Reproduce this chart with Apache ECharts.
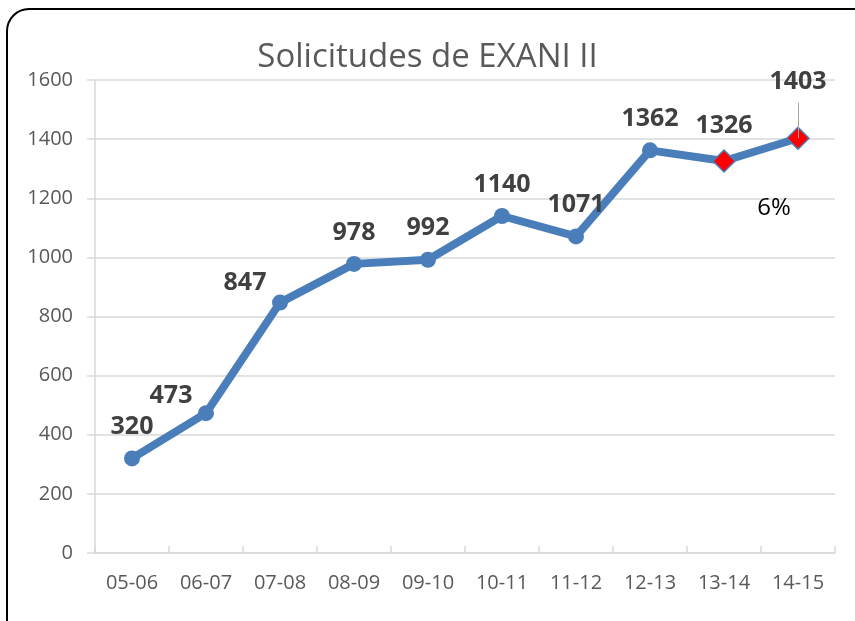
<!DOCTYPE html>
<html>
<head>
<meta charset="utf-8">
<script src="https://cdn.jsdelivr.net/npm/echarts@6/dist/echarts.min.js"></script>
<style>
  html, body { margin: 0; padding: 0; background: #fff; }
  #chart { width: 855px; height: 621px; }
</style>
</head>
<body>
<div id="chart"></div>
<script>
var periods = ['05-06', '06-07', '07-08', '08-09', '09-10', '10-11', '11-12', '12-13', '13-14', '14-15'];
var solicitudes = [320, 473, 847, 978, 992, 1140, 1071, 1362, 1326, 1403];
var yTicks = [0, 1600, 200];
var growthNote = '6%';

var myChart = echarts.init(document.getElementById('chart'));

var font = '"Open Sans", "Noto Sans", sans-serif';

// puntos con rombo rojo y etiquetas desplazadas
var seriesData = solicitudes.map(function (v, i) {
	var item = { value: v };
	if (i === 1) item.label = { offset: [-35, 14] };
	if (i === 2) item.label = { offset: [-35, 12] };
	if (i >= 8) {
		item.symbol = 'diamond';
		item.symbolSize = 22;
		item.itemStyle = { color: '#ff0000', borderColor: '#4a7ebb', borderWidth: 1.5 };
	}
	if (i === 9) item.label = { offset: [0, -21] };
	return item;
});

var option = {
	backgroundColor: '#fff',
	animation: false,
	title: {
		text: 'Solicitudes de EXANI II',
		left: 'center',
		top: 36,
		textStyle: { fontFamily: font, fontSize: 33, fontWeight: 'normal', color: '#595959' }
	},
	graphic: [{
		type: 'rect',
		shape: { x: 7, y: 9, width: 880, height: 650, r: 22 },
		style: { fill: 'none', stroke: '#000', lineWidth: 2 },
		silent: true,
		z: 100
	}],
	grid: { left: 95, right: 20, top: 80, bottom: 68 },
	xAxis: {
		type: 'category',
		data: periods,
		boundaryGap: true,
		axisLine: { lineStyle: { color: '#d9d9d9', width: 1.5 } },
		axisTick: { show: true, inside: true, length: 7, lineStyle: { color: '#d9d9d9', width: 1.5 } },
		axisLabel: { color: '#595959', fontSize: 20, fontFamily: font, margin: 20 }
	},
	yAxis: {
		type: 'value',
		min: yTicks[0],
		max: yTicks[1],
		interval: yTicks[2],
		axisLine: { show: true, lineStyle: { color: '#d9d9d9', width: 1.5 } },
		axisTick: { show: true, length: 8, lineStyle: { color: '#d9d9d9', width: 1.5 } },
		splitLine: { lineStyle: { color: '#d9d9d9', width: 1.5 } },
		axisLabel: {
			color: '#595959', fontSize: 20, fontFamily: font, margin: 22,
			formatter: function (v) { return String(v); }
		}
	},
	series: [{
		type: 'line',
		data: seriesData,
		symbol: 'circle',
		symbolSize: 16,
		lineStyle: { color: '#4a7ebb', width: 8 },
		itemStyle: { color: '#4a7ebb' },
		label: {
			show: true,
			position: 'top',
			distance: 11,
			fontFamily: font,
			fontSize: 25,
			fontWeight: 'bold',
			color: '#404040'
		},
		markPoint: {
			symbol: 'circle',
			symbolSize: 1,
			itemStyle: { color: 'rgba(0,0,0,0)' },
			data: [{ coord: [periods[9], solicitudes[9]], value: growthNote }],
			label: {
				show: true,
				position: 'inside',
				formatter: growthNote,
				offset: [-24, 70],
				fontFamily: font,
				fontSize: 24,
				color: '#000'
			}
		},
		markLine: {
			silent: true,
			symbol: 'none',
			label: { show: false },
			lineStyle: { color: '#a6a6a6', width: 1, type: 'solid' },
			data: [[
				{ coord: [periods[9], solicitudes[9]] },
				{ coord: [periods[9], solicitudes[9] + 120] }
			]]
		}
	}]
};

myChart.setOption(option);
</script>
</body>
</html>
